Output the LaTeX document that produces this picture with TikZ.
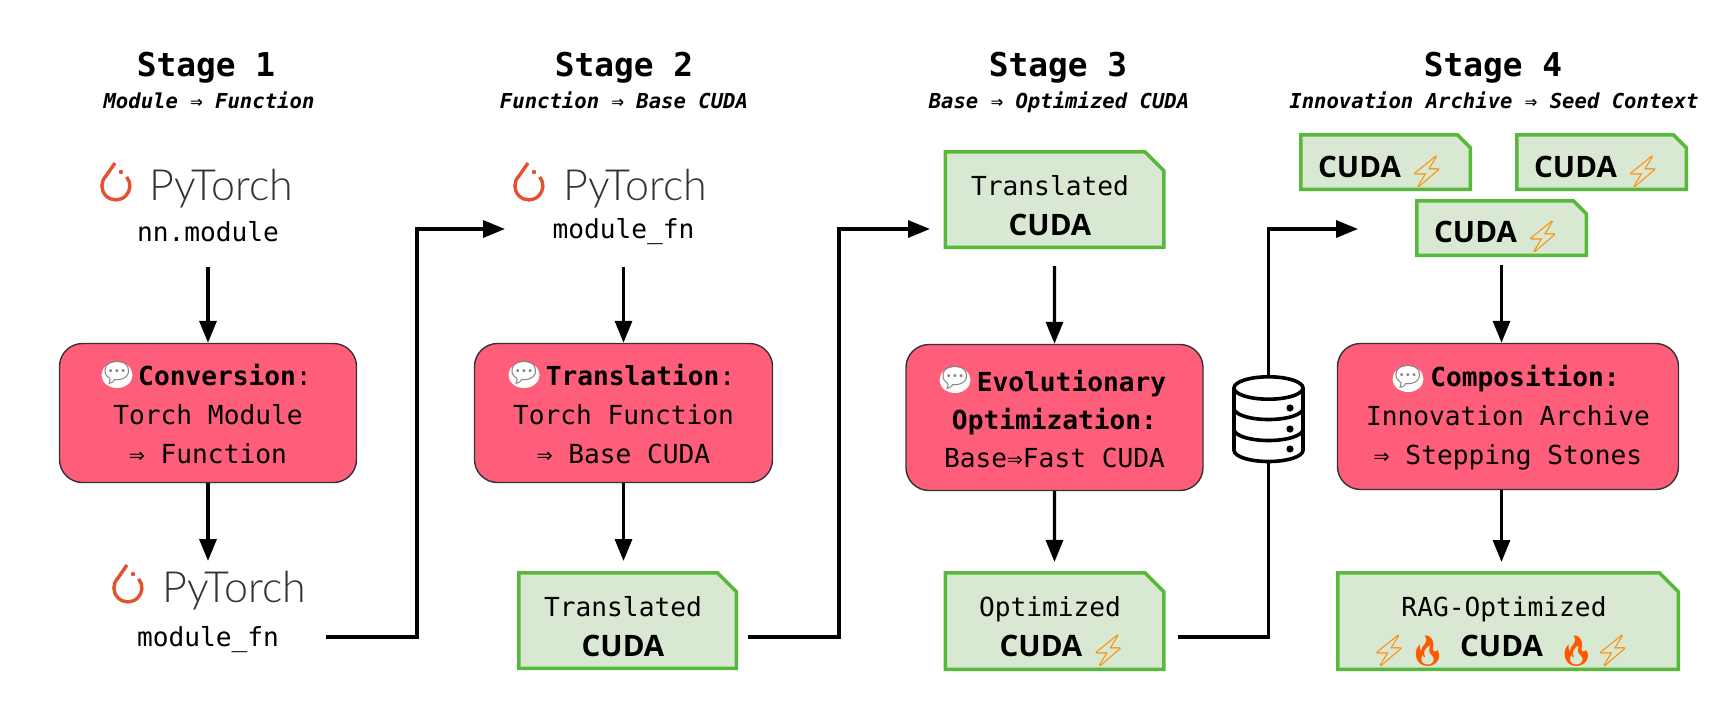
\documentclass[tikz,border=0pt]{standalone}
\usepackage{fontspec}
\setmonofont{DejaVu Sans Mono}
\newfontfamily\cudafont{Open Sans}
\newfontfamily\logofont{Lato Light}
\newfontfamily\emojifont{Noto Emoji}
\usetikzlibrary{arrows.meta,shapes.misc,shapes.geometric}
\definecolor{stagered}{HTML}{FF5E7B}
\definecolor{docgreen}{HTML}{D9E8D3}
\definecolor{docedge}{HTML}{57B93A}
\definecolor{torchred}{HTML}{E5502F}
\newcommand{\cuda}{{\cudafont\bfseries\fontsize{29.5}{38}\selectfont CUDA}}
\newcommand{\zap}{\makebox[24pt]{\raisebox{-5pt}[0pt][0pt]{\emojifont\fontsize{31}{31}\selectfont\color{orange!90!yellow}⚡}}}
\newcommand{\blaze}{\makebox[27pt]{\raisebox{-5pt}[0pt][0pt]{\emojifont\fontsize{30}{30}\selectfont\color{orange!70!red}🔥}}}
\newcommand{\docfill}[1]{\phantom{\rule{#1}{#1}}}
\tikzset{
  stagetitle/.style={anchor=base, font=\ttfamily\bfseries\fontsize{32.8}{38}\selectfont},
  stagenote/.style={anchor=base, font=\ttfamily\bfseries\itshape\fontsize{20.6}{26}\selectfont},
  codelabel/.style={font=\ttfamily\fontsize{26.2}{32}\selectfont, minimum height=70pt, inner sep=0pt},
  torchlogo/.style={anchor=base west, font=\logofont\fontsize{43}{46}\selectfont, text=black!80, inner sep=0pt},
  agentbox/.style={draw=black!80, line width=1.4pt, fill=stagered, rounded corners=23pt, inner sep=0pt},
  agenttext/.style={font=\ttfamily\fontsize{26.2}{39}\selectfont, align=center, inner sep=0pt},
  cudadoc/.style={chamfered rectangle, chamfered rectangle corners=north east, chamfered rectangle xsep=16pt,
    draw=docedge, line width=3.5pt, fill=docgreen, inner sep=0pt},
  seeddoc/.style={cudadoc, chamfered rectangle xsep=10pt, minimum width=169.5pt, minimum height=54.5pt},
  doctext/.style={font=\ttfamily\fontsize{26.2}{40}\selectfont, align=center, inner sep=0pt},
  chat/.style={ellipse, fill=white, inner sep=0pt, minimum width=31pt, minimum height=26pt},
  chatmark/.style={inner sep=0pt, text=black!50, font=\emojifont\fontsize{28}{28}\selectfont},
  flow/.style={-{Triangle[length=22pt,width=17pt]}, line width=3.3pt},
  feed/.style={line width=3.3pt},
  torchmark/.pic={
    \draw[torchred, line width=3.4pt] (-1,-23) -- (-10,-10) arc[start angle=-135, end angle=-400, radius=14];
    \fill[torchred] (5,-14) circle (2.2);
  }
}
\begin{document}
\begin{tikzpicture}[x=1pt, y=-1pt]
  \useasboundingbox (0,0) rectangle (1714,728);

  % stage 1
  \node[stagetitle] (titleA) at (206,76) {Stage 1};
  \node[stagenote] (noteA) at (209,108) {Module ⇒ Function};
  \node[torchlogo] (logoA) at (149,200) {PyTorch};
  \pic at (116,186) {torchmark};
  \node[codelabel] (moduleA) at (208,232) {nn.module};
  \node[agentbox, minimum width=297pt, minimum height=139pt] (boxA) at (208,413) {};
  \node[agenttext] (textA) at (208,414) {\hspace*{34pt}\textbf{Conversion}:\\Torch Module\\⇒ Function};
  \node[chat] (chatA) at (117,375) {};
  \node[chatmark] (markA) at (117,373) {\makebox[0pt]{💬}};
  \node[torchlogo] (logoB) at (162,602) {PyTorch};
  \pic at (128,588) {torchmark};
  \node[codelabel, minimum height=30pt] (fnA) at (208,640) {module\_fn};
  \coordinate (tipA) at (208,561);
  \coordinate (tapA) at (326,637);
  \coordinate (inA) at (505,229);
  \draw[flow] (moduleA) -- (boxA);
  \draw[flow] (boxA) -- (tipA);
  \draw[flow] (tapA) -- (417,637) |- (inA);

  % stage 2
  \node[stagetitle] (titleB) at (624,76) {Stage 2};
  \node[stagenote] (noteB) at (624,108) {Function ⇒ Base CUDA};
  \node[torchlogo] (logoC) at (563,200) {PyTorch};
  \pic at (529,186) {torchmark};
  \node[codelabel] (fnB) at (623.5,232) {module\_fn};
  \node[agentbox, minimum width=298pt, minimum height=139pt] (boxB) at (623.5,413) {};
  \node[agenttext] (textB) at (623.5,414) {\hspace*{34pt}\textbf{Translation}:\\Torch Function\\⇒ Base CUDA};
  \node[chat] (chatB) at (524,375) {};
  \node[chatmark] (markB) at (524,373) {\makebox[0pt]{💬}};
  \node[cudadoc, minimum width=217.5pt, minimum height=95.5pt] (docB) at (627.5,620.5) {\docfill{40pt}};
  \node[doctext] (labelB) at (623,627) {Translated\\\cuda};
  \coordinate (tapB) at (748,637);
  \coordinate (inB) at (930,229);
  \draw[flow] (fnB) -- (boxB);
  \draw[flow, shorten >=10pt] (boxB.south) -- (boxB.south |- docB.north);
  \draw[flow] (tapB) -- (839,637) |- (inB);

  % stage 3
  \node[stagetitle] (titleC) at (1058,76) {Stage 3};
  \node[stagenote] (noteC) at (1059,108) {Base ⇒ Optimized CUDA};
  \node[cudadoc, minimum width=218.5pt, minimum height=95.5pt] (docC) at (1054.5,199.5) {\docfill{40pt}};
  \node[doctext] (labelC) at (1050,206) {Translated\\\cuda};
  \node[agentbox, minimum width=297pt, minimum height=146pt] (boxC) at (1054.5,417.5) {};
  \node[agenttext, font=\ttfamily\fontsize{26.2}{38}\selectfont] (textC) at (1054.5,419)
    {\hspace*{34pt}\textbf{Evolutionary}\\\textbf{Optimization:}\\Base⇒Fast CUDA};
  \node[chat] (chatC) at (955,380) {};
  \node[chatmark] (markC) at (955,378) {\makebox[0pt]{💬}};
  \node[cudadoc, minimum width=218.5pt, minimum height=96.5pt] (docD) at (1054.5,621) {\docfill{40pt}};
  \node[doctext] (labelD) at (1050,627) {Optimized\\\hspace*{20pt}\cuda\hspace{14pt}\zap};
  \draw[flow, shorten <=17pt] (docC) -- (boxC);
  \draw[flow, shorten >=9pt] (boxC) -- (docD);

  % archive between the stages
  \node[minimum width=72pt, minimum height=88pt, inner sep=0pt] (archive) at (1268.5,419) {};
  \begin{scope}[line width=3.6pt, line cap=round]
    \draw (1234,388) -- (1234,450.3) arc[start angle=180, end angle=0, x radius=34.5, y radius=11.2] -- (1303,388);
    \draw (1268.5,388) ellipse (34.5 and 11.2);
    \draw (1234,408.3) arc[start angle=180, end angle=0, x radius=34.5, y radius=11.2];
    \draw (1234,429.3) arc[start angle=180, end angle=0, x radius=34.5, y radius=11.2];
    \fill (1290,408) circle (3.6) (1290,429) circle (3.6) (1290,449) circle (3.6);
  \end{scope}
  \coordinate (tapC) at (1178,637);
  \coordinate (inC) at (1358,229);
  \draw[feed] (tapC) -| (archive.south);
  \draw[flow] (archive.north) |- (inC);

  % stage 4
  \node[stagetitle] (titleD) at (1493,76) {Stage 4};
  \node[stagenote] (noteD) at (1494,108) {Innovation Archive ⇒ Seed Context};
  \node[seeddoc] (seedA) at (1385.5,162) {\docfill{20pt}};
  \node[doctext] (labelA) at (1378.5,167) {\cuda\hspace{14pt}\zap};
  \node[seeddoc] (seedB) at (1601.5,162) {\docfill{20pt}};
  \node[doctext] (labelS) at (1594.5,167) {\cuda\hspace{14pt}\zap};
  \node[seeddoc] (seedC) at (1501.5,228) {\docfill{20pt}};
  \node[doctext] (labelT) at (1494.5,232) {\cuda\hspace{14pt}\zap};
  \node[agentbox, minimum width=341pt, minimum height=146pt] (boxD) at (1508,416.5) {};
  \node[agenttext] (textD) at (1508,418) {\hspace*{34pt}\textbf{Composition:}\\Innovation Archive\\⇒ Stepping Stones};
  \node[chat] (chatD) at (1408,379) {};
  \node[chatmark] (markD) at (1408,377) {\makebox[0pt]{💬}};
  \node[cudadoc, minimum width=340.5pt, minimum height=96.5pt] (docE) at (1508,621) {\docfill{40pt}};
  \node[doctext] (labelE) at (1501,627)
    {\hspace*{6pt}RAG-Optimized\\\zap\hspace{13pt}\blaze\hspace{19pt}\cuda\hspace{20pt}\blaze\hspace{11pt}\zap};
  \draw[flow, shorten <=8pt] (seedC.south) -- (seedC.south |- boxD.north);
  \draw[flow, shorten >=9pt] (seedC.south |- boxD.south) -- (seedC.south |- docE.north);
\end{tikzpicture}
\end{document}
